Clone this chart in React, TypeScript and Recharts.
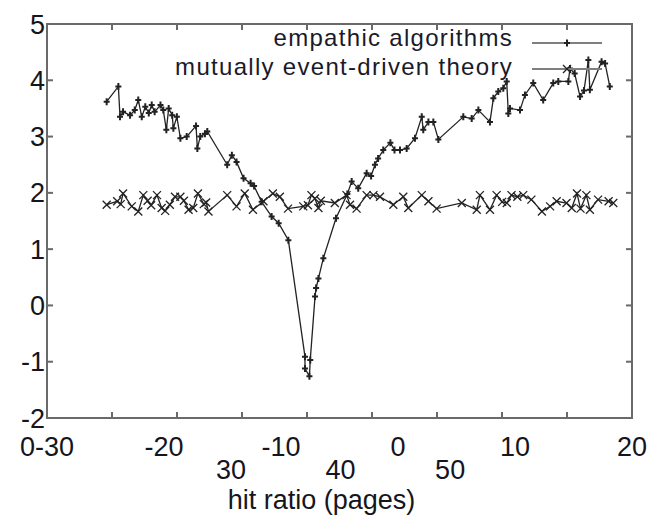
import React from "react";
import { LineChart, Line, XAxis, YAxis, ReferenceArea } from "recharts";

// series names
const SERIES_NAMES = ["empathic algorithms", "mutually event-driven theory"];

// empathic algorithms
const empX = [
  -24.9, -23.9, -23.76, -23.5, -22.9, -22.5, -22.2, -21.9, -21.6, -21.3, -21.05, -20.8, -20.3, -20.06,
  -19.8, -19.6, -19.3, -19.2, -18.9, -18.6, -18.06, -17.26, -17.15, -16.9, -16.5, -16.3, -14.6, -14.2,
  -13.8, -13.2, -12.6, -12.3, -11.65, -10.8, -10.2, -9.37, -7.95, -7.95, -7.57, -7.5, -7.09, -7.0, -6.8,
  -6.38, -5.3, -4.33, -3.96, -3.4, -2.68, -2.3, -1.97, -1.7, -1.26, -0.65, -0.3, 0.17, 0.74, 1.45, 2.03,
  2.16, 2.6, 3.02, 3.45, 5.58, 6.3, 6.87, 7.86, 8.15, 8.57, 9.0, 9.29, 9.43, 9.57, 10.43, 10.85, 11.56,
  12.41, 13.27, 13.7, 14.56, 14.7, 15.1, 15.56, 15.9, 16.27, 16.4, 17.4, 17.7, 18.1,
];
const empY = [
  3.62, 3.89, 3.35, 3.44, 3.38, 3.47, 3.65, 3.35, 3.53, 3.42, 3.56, 3.44, 3.56, 3.47,
  3.12, 3.5, 3.38, 3.15, 3.35, 2.97, 3.0, 3.19, 2.79, 3.0, 3.05, 3.09, 2.5, 2.67,
  2.55, 2.26, 2.17, 2.12, 1.84, 1.58, 1.46, 1.16, -0.91, -1.12, -1.26, -0.97, 0.16, 0.31, 0.48,
  0.84, 1.55, 1.98, 2.2, 2.08, 2.35, 2.3, 2.5, 2.61, 2.76, 2.89, 2.76, 2.76, 2.79, 2.97, 3.35,
  3.12, 3.26, 3.26, 2.95, 3.35, 3.32, 3.47, 3.26, 3.68, 3.8, 3.86, 3.98, 3.41, 3.5, 3.47, 3.74, 3.95,
  3.65, 3.95, 3.98, 3.98, 4.21, 4.12, 3.71, 3.82, 4.36, 3.83, 4.33, 4.3, 3.89,
];

// mutually event-driven theory
const mutX = [
  -24.9, -24.0, -23.7, -23.5, -22.76, -22.2, -21.77, -21.4, -21.1, -20.6, -20.2, -19.9, -19.5, -19.06,
  -18.6, -18.3, -17.9, -17.5, -17.1, -16.6, -16.4, -16.2, -14.6, -13.8, -13.1, -12.4, -11.5, -10.7,
  -10.1, -9.4, -8.1, -7.7, -7.4, -7.1, -6.8, -6.6, -5.4, -4.4, -4.1, -3.54, -2.68, -2.1, -1.54, -0.4,
  0.45, 0.88, 2.03, 2.6, 3.3, 5.45, 6.73, 7.0, 7.86, 8.43, 8.9, 9.3, 9.7, 10.2, 10.7, 11.4, 12.3, 13.0,
  13.56, 14.4, 14.85, 15.3, 15.6, 16.1, 16.4, 17.1, 18.0, 18.4,
];
const mutY = [
  1.79, 1.85, 1.8, 1.99, 1.76, 1.67, 1.96, 1.86, 1.78, 1.96, 1.73, 1.68, 1.79, 1.93,
  1.93, 1.86, 1.7, 1.73, 1.99, 1.8, 1.83, 1.67, 1.96, 1.76, 1.99, 1.7, 1.85, 1.99,
  1.93, 1.72, 1.76, 1.78, 1.96, 1.9, 1.73, 1.86, 1.82, 1.96, 1.79, 1.72, 1.96, 1.96, 1.93, 1.79,
  1.93, 1.73, 1.96, 1.85, 1.72, 1.82, 1.7, 1.96, 1.7, 1.96, 1.84, 1.82, 1.96, 1.93, 1.96, 1.88, 1.67, 1.76,
  1.85, 1.82, 1.73, 1.99, 1.72, 1.96, 1.7, 1.88, 1.85, 1.82,
];

// axis ticks
const X_DOMAIN = [-30, 20];
const xLabelTicks = [-30, -20, -10, 0, 10, 20];
// second row of labels sits on its own (misaligned) scale
const xLabelTicks2 = [30, 40, 50];
const X2_DOMAIN = [13.2, 66.6];
const X_MARK_COUNT = 9; // tick marks split the frame in 9 equal parts
const Y_DOMAIN = [-2, 5];
const yTicks = [-2, -1, 0, 1, 2, 3, 4, 5];

const empData = empX.map((x, i) => ({ x, y: empY[i] }));
const mutData = mutX.map((x, i) => ({ x, y: mutY[i] }));

const span = X_DOMAIN[1] - X_DOMAIN[0];
const markTicks = Array.from({ length: X_MARK_COUNT + 1 }, (_, k) => X_DOMAIN[0] + (k * span) / X_MARK_COUNT);
const row2Ticks = xLabelTicks2.map(
  (v) => X_DOMAIN[0] + ((v - X2_DOMAIN[0]) / (X2_DOMAIN[1] - X2_DOMAIN[0])) * span
);
const bottomTicks = Array.from(new Set([...markTicks, ...xLabelTicks, ...row2Ticks])).sort((a, b) => a - b);

const AXIS = "#6a6a6a";
const FRAME_W = 2;
const INK = "#222";
const TEXT = "#151520";
const FONT = "'Liberation Sans', Arial, sans-serif";
const TICK_LEN = 6;

const near = (a: number, b: number) => Math.abs(a - b) < 1e-6;

function BottomTick(props: any) {
  const { x, y, payload } = props;
  const v = payload.value;
  const out: React.ReactNode[] = [];
  if (markTicks.some((m) => near(m, v))) {
    out.push(<line key="m" x1={x} x2={x} y1={y - 2} y2={y - 2 - TICK_LEN} stroke={AXIS} strokeWidth={FRAME_W} />);
  }
  const li = xLabelTicks.findIndex((m) => near(m, v));
  if (li >= 0) {
    const t = xLabelTicks[li] === -30 ? "0-30" : String(xLabelTicks[li]);
    out.push(
      <text key="l" x={x} y={y + 36} textAnchor="middle" fontSize={27} fill={TEXT} fontFamily={FONT}>
        {t}
      </text>
    );
  }
  const ri = row2Ticks.findIndex((m) => near(m, v));
  if (ri >= 0) {
    out.push(
      <text key="r" x={x} y={y + 59} textAnchor="middle" fontSize={27} fill={TEXT} fontFamily={FONT}>
        {xLabelTicks2[ri]}
      </text>
    );
  }
  return <g>{out}</g>;
}

function TopTick(props: any) {
  const { x, y } = props;
  return <line x1={x} x2={x} y1={y + 2} y2={y + 2 + TICK_LEN} stroke={AXIS} strokeWidth={FRAME_W} />;
}

function LeftTick(props: any) {
  const { x, y, payload } = props;
  return (
    <g>
      <line x1={x + 2} x2={x + 2 + TICK_LEN} y1={y} y2={y} stroke={AXIS} strokeWidth={FRAME_W} />
      <text x={x} y={y + 9.5} textAnchor="end" fontSize={27} fill={TEXT} fontFamily={FONT}>
        {payload.value}
      </text>
    </g>
  );
}

function RightTick(props: any) {
  const { x, y } = props;
  return <line x1={x - 2} x2={x - 2 - TICK_LEN} y1={y} y2={y} stroke={AXIS} strokeWidth={FRAME_W} />;
}

function PlusDot(props: any) {
  const { cx, cy, index } = props;
  if (cx == null || cy == null) return <g key={index} />;
  return (
    <path
      key={index}
      d={`M${cx - 3},${cy}H${cx + 3}M${cx},${cy - 3.5}V${cy + 3.5}`}
      stroke={INK}
      strokeWidth={2}
      fill="none"
    />
  );
}

function CrossDot(props: any) {
  const { cx, cy, index } = props;
  if (cx == null || cy == null) return <g key={index} />;
  const s = 4;
  return (
    <path
      key={index}
      d={`M${cx - s},${cy - s}L${cx + s},${cy + s}M${cx - s},${cy + s}L${cx + s},${cy - s}`}
      stroke={INK}
      strokeWidth={1.3}
      fill="none"
    />
  );
}

// key box drawn over the chart, top right inside the frame
function KeyBox() {
  return (
    <svg
      width={662}
      height={90}
      style={{ position: "absolute", left: 0, top: 0, pointerEvents: "none", fontFamily: FONT }}
    >
      {SERIES_NAMES.map((n, i) => {
        const base = 46 + i * 29;
        const ly = 43 + i * 26;
        return (
          <g key={n}>
            <text x={513} y={base} textAnchor="end" fontSize={24} letterSpacing={1.3} fill="#1a1a2a">
              {n}
            </text>
            <line x1={532} x2={602} y1={ly} y2={ly} stroke="#7f7f7f" strokeWidth={2} />
            {i === 0 ? <PlusDot cx={567} cy={ly} index={0} /> : <CrossDot cx={567} cy={ly} index={1} />}
          </g>
        );
      })}
    </svg>
  );
}

export default function App() {
  return (
    <div style={{ position: "absolute", left: 0, top: 0, width: 662, height: 530 }}>
      <LineChart width={662} height={530} margin={{ top: 23, right: 29, bottom: 0, left: 0 }}>
        <XAxis
          xAxisId="a"
          type="number"
          dataKey="x"
          domain={X_DOMAIN}
          ticks={bottomTicks}
          interval={0}
          height={112}
          axisLine={{ stroke: AXIS, strokeWidth: FRAME_W }}
          tickLine={false}
          tickSize={0}
          tick={<BottomTick />}
          allowDataOverflow
          label={{
            value: "hit ratio (pages)",
            position: "insideBottom",
            offset: 21,
            dx: -18,
            fill: TEXT,
            fontSize: 27,
            fontFamily: FONT,
          }}
        />
        <XAxis
          xAxisId="t"
          orientation="top"
          type="number"
          dataKey="x"
          domain={X_DOMAIN}
          ticks={markTicks}
          interval={0}
          height={1}
          axisLine={{ stroke: AXIS, strokeWidth: FRAME_W }}
          tickLine={false}
          tickSize={0}
          tick={<TopTick />}
          allowDataOverflow
        />
        <YAxis
          yAxisId="l"
          type="number"
          domain={Y_DOMAIN}
          ticks={yTicks}
          interval={0}
          width={47}
          axisLine={{ stroke: AXIS, strokeWidth: FRAME_W }}
          tickLine={false}
          tickSize={0}
          tick={<LeftTick />}
          allowDataOverflow
        />
        <YAxis
          yAxisId="r"
          orientation="right"
          type="number"
          domain={Y_DOMAIN}
          ticks={yTicks}
          interval={0}
          width={1}
          axisLine={{ stroke: AXIS, strokeWidth: FRAME_W }}
          tickLine={false}
          tickSize={0}
          tick={<RightTick />}
          allowDataOverflow
        />
        {/* plot frame drawn through the axes' own scales */}
        <ReferenceArea
          xAxisId="a"
          yAxisId="l"
          x1={X_DOMAIN[0]}
          x2={X_DOMAIN[1]}
          y1={Y_DOMAIN[0]}
          y2={Y_DOMAIN[1]}
          fill="none"
          fillOpacity={0}
          stroke={AXIS}
          strokeWidth={FRAME_W}
          ifOverflow="visible"
        />
        <Line
          name={SERIES_NAMES[0]}
          data={empData}
          dataKey="y"
          xAxisId="a"
          yAxisId="l"
          type="linear"
          stroke={INK}
          strokeWidth={1.3}
          dot={PlusDot}
          activeDot={false}
          isAnimationActive={false}
        />
        <Line
          name={SERIES_NAMES[1]}
          data={mutData}
          dataKey="y"
          xAxisId="t"
          yAxisId="r"
          type="linear"
          stroke={INK}
          strokeWidth={1.3}
          dot={CrossDot}
          activeDot={false}
          isAnimationActive={false}
        />
      </LineChart>
      <KeyBox />
    </div>
  );
}
